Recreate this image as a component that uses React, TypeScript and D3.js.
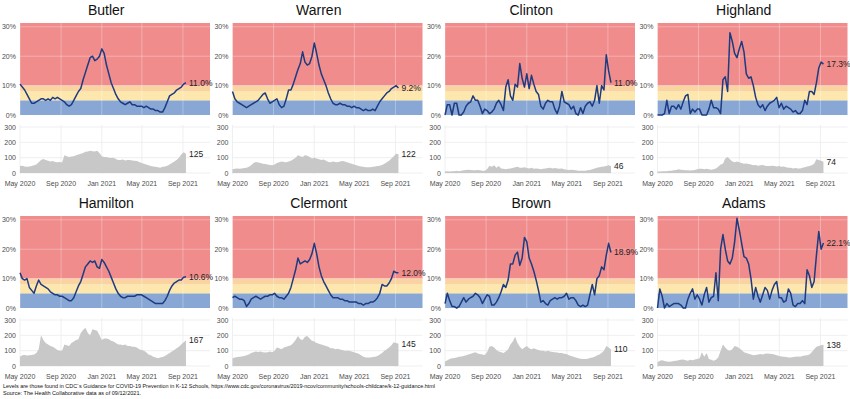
import * as d3 from 'd3'

const counties = ['Butler', 'Warren', 'Clinton', 'Highland', 'Hamilton', 'Clermont', 'Brown', 'Adams']

// weekly 7-day positivity (%), starting May 1 2020
const butlerRate = [10.5, 9.5, 8.5, 7, 5.5, 4, 4, 4.5, 5, 5.5, 5.5, 5, 5.5, 5, 6, 5.5, 6, 5.5, 5, 4.5, 3.5, 3, 3.5, 5, 6.5, 8, 9, 12, 14.5, 17, 19.5, 20, 18.5, 19, 20, 22.5, 21, 17, 14, 11, 9, 7, 5.5, 4.5, 4, 3.5, 4, 4.5, 3.5, 3.5, 3, 3, 3, 2.5, 3, 2.5, 2, 2, 1.5, 1.5, 1, 1, 2.5, 4.5, 6.5, 7, 7.5, 8.5, 9, 9.5, 10.5, 11.0]
const warrenRate = [8, 5.5, 4.5, 4, 3.5, 3, 2.5, 3, 3.5, 4, 4.5, 5, 6, 7, 7.5, 5.5, 4, 4.5, 5, 5.5, 3.5, 2.5, 3, 5.5, 8.5, 8.5, 10.5, 13, 15.5, 17.5, 21.5, 18, 17, 17.5, 20, 24.5, 21, 17, 14, 12, 10, 7.5, 5.5, 4, 3.5, 3.5, 4, 3.5, 3.5, 3, 3, 2.5, 3, 2.5, 2.5, 2, 1.5, 2, 1.5, 1.5, 2, 1.5, 3, 4.5, 5.5, 6.5, 7.5, 8, 9, 9.5, 10, 9.2]
const clintonRate = [0, 3.5, 3.5, 0, 4, 4, 0, 0, 1, 3, 4, 4.5, 6.5, 5, 5, 3, 0.5, 2, 1.5, 0.5, 1, 2, 4, 5, 3.5, 1.5, 9.5, 12, 6.5, 5, 10.5, 9.5, 17.5, 12.5, 9.5, 14, 9, 13.5, 10.5, 8, 7, 3, 2, 4, 5, 4.5, 4.5, 2, 0.5, 3, 8, 4.5, 4, 3.5, 2, 3, 0.5, 0, 2.5, 0.5, 3, 4, 4.5, 3, 5, 10, 4, 10, 8.5, 20.5, 15, 11.0]
const highlandRate = [0, 0, 0, 0.5, 5, 0.5, 3, 3, 2, 3.5, 2, 4.5, 6.5, 7, 0.5, 2, 1, 2, 2, 0, 0, 0, 2, 5, 2.5, 2.5, 2, 0.5, 12, 13, 8, 28, 25, 21, 19.5, 22.5, 25, 21.5, 14, 12.5, 13, 10, 6, 3.5, 2.5, 3.5, 1.5, 3, 4, 4.5, 5, 6, 2.5, 4, 2, 3, 2.5, 2, 1, 1.5, 0.5, 0.5, 1.5, 5, 3.5, 8, 8, 7, 11, 16, 18, 17.3]
const hamiltonRate = [12, 10, 9.5, 10, 7, 6, 5, 7.5, 9.5, 8, 7.5, 7, 6.5, 5.5, 5, 4.5, 4.5, 4, 4, 3.5, 3, 2.5, 2.5, 3.5, 5.5, 7.5, 9, 11.5, 14, 15, 16, 15.5, 16, 14, 13.5, 16.5, 15.5, 14, 12.5, 10.5, 8.5, 6.5, 5, 4, 3.5, 3.5, 4, 4, 4, 4, 4.5, 4.5, 4.5, 4, 3.5, 3, 2.5, 2, 1.5, 1.5, 1.5, 1.5, 2.5, 4, 6, 7.5, 8.5, 9, 9.5, 9.5, 10.5, 10.6]
const clermontRate = [3.5, 4, 3.5, 3, 3, 2.5, 0.5, 1.5, 3, 3.5, 4, 3.5, 3, 3.5, 4, 4, 4.5, 4.5, 5, 4, 3.5, 3.5, 3, 4, 5, 7, 10, 13, 17, 15, 15.5, 16, 15.5, 16.5, 18.5, 22, 18.5, 14, 11, 9, 7.5, 6, 4.5, 3.5, 3.5, 3.5, 3, 3, 2.5, 2.5, 2, 2, 2, 2, 1.5, 1.5, 1, 1.5, 1.5, 2, 2, 2.5, 3.5, 5, 8, 7.5, 7.5, 8.5, 10, 12.5, 12, 12.0]
const brownRate = [1.5, 5, 2.5, 0.5, 0.5, 0, 0.5, 2, 3.5, 2, 3, 3.5, 4, 5, 4.5, 3.5, 1.5, 3, 4.5, 4, 1, 1, 2, 3.5, 5.5, 8, 7, 9.5, 15, 15, 18, 19, 14.5, 17, 24, 22.5, 17, 15, 12.5, 9.5, 6, 2, 2.5, 1.5, 1, 2.5, 3, 3.5, 3, 3.5, 3.5, 4, 5, 3, 3.5, 3.5, 2.5, 1, 0.5, 1, 0.5, 1, 4.5, 8, 4.5, 10, 11, 14, 13, 18, 22, 18.9]
const adamsRate = [0, 6.5, 4, 0, 1.5, 0.5, 1, 1.5, 1.5, 1.5, 1, 0, 0, 3, 5, 6.5, 3, 4.5, 3, 1, 4.5, 7, 2, 3.5, 4, 12, 2.5, 20, 25, 20, 16, 15, 17, 22.5, 30.5, 26.5, 22, 17.5, 17, 15, 10, 3, 7, 4, 2, 4.5, 7, 6, 3, 6, 8, 9, 3.5, 3.5, 2, 2.5, 6.5, 5, 1, 0.5, 1.5, 1.5, 2.5, 1.5, 13, 11, 7, 9, 18, 26, 20, 22.1]

// weekly cases per 100k
const butlerCases = [45, 48, 42, 40, 42, 45, 50, 55, 70, 85, 92, 85, 80, 75, 78, 72, 70, 72, 68, 115, 110, 105, 108, 110, 115, 120, 125, 130, 138, 140, 145, 142, 140, 145, 130, 110, 105, 105, 100, 98, 100, 92, 85, 85, 88, 82, 85, 85, 82, 80, 78, 72, 65, 60, 55, 50, 45, 42, 40, 38, 35, 40, 42, 48, 55, 65, 75, 85, 100, 120, 135, 125]
const warrenCases = [25, 28, 30, 28, 30, 32, 35, 40, 50, 65, 72, 68, 65, 60, 58, 55, 52, 50, 55, 65, 70, 75, 72, 70, 75, 80, 90, 100, 115, 110, 105, 115, 112, 105, 95, 100, 95, 90, 85, 88, 80, 72, 70, 75, 72, 70, 75, 78, 75, 70, 65, 60, 55, 50, 45, 42, 40, 38, 38, 38, 40, 42, 45, 48, 52, 60, 70, 80, 95, 110, 125, 122]
const clintonCases = [10, 12, 10, 12, 12, 14, 12, 15, 18, 20, 22, 20, 18, 18, 20, 18, 15, 15, 25, 48, 40, 50, 35, 45, 30, 28, 25, 28, 30, 32, 38, 40, 35, 35, 38, 32, 30, 35, 28, 30, 28, 25, 28, 30, 32, 35, 30, 32, 30, 28, 30, 25, 22, 20, 22, 20, 18, 15, 15, 14, 15, 18, 20, 25, 30, 35, 38, 40, 42, 45, 50, 46]
const highlandCases = [10, 10, 12, 12, 12, 14, 15, 18, 20, 25, 22, 20, 18, 18, 16, 18, 20, 25, 28, 28, 25, 28, 25, 22, 25, 30, 40, 55, 60, 95, 105, 90, 75, 70, 75, 70, 65, 60, 62, 58, 55, 50, 52, 48, 50, 52, 48, 45, 45, 48, 45, 42, 45, 40, 42, 38, 35, 35, 30, 32, 30, 30, 35, 38, 42, 45, 50, 60, 90, 85, 80, 74]
const hamiltonCases = [60, 70, 72, 68, 70, 72, 75, 85, 110, 200, 170, 150, 140, 130, 125, 115, 105, 100, 100, 140, 135, 130, 150, 160, 170, 175, 215, 235, 250, 215, 200, 240, 235, 230, 200, 170, 180, 180, 175, 165, 160, 150, 140, 140, 135, 140, 130, 130, 125, 125, 120, 110, 105, 100, 90, 75, 70, 60, 55, 50, 55, 58, 65, 75, 85, 95, 105, 115, 125, 140, 155, 167]
const clermontCases = [50, 55, 58, 60, 62, 65, 70, 75, 85, 90, 95, 92, 95, 90, 88, 90, 95, 90, 100, 120, 115, 110, 120, 125, 130, 135, 150, 170, 195, 175, 170, 190, 195, 180, 165, 160, 150, 145, 140, 135, 130, 125, 115, 115, 110, 112, 108, 105, 100, 100, 100, 95, 90, 85, 80, 70, 60, 55, 55, 55, 58, 60, 65, 75, 85, 100, 110, 120, 135, 155, 150, 145]
const brownCases = [30, 38, 45, 50, 52, 55, 60, 62, 65, 70, 75, 80, 85, 90, 82, 78, 75, 72, 90, 125, 130, 120, 105, 95, 90, 85, 95, 110, 140, 160, 190, 150, 125, 110, 120, 130, 115, 110, 115, 110, 105, 100, 100, 95, 100, 95, 92, 90, 88, 85, 85, 80, 78, 70, 65, 60, 55, 50, 48, 45, 45, 48, 52, 55, 60, 68, 75, 85, 100, 130, 120, 110]
const adamsCases = [25, 35, 38, 32, 30, 28, 30, 32, 35, 38, 40, 42, 38, 35, 40, 38, 42, 45, 50, 90, 60, 85, 45, 40, 35, 40, 55, 100, 140, 120, 105, 100, 110, 130, 125, 115, 105, 90, 85, 80, 75, 70, 72, 75, 78, 75, 80, 82, 80, 78, 75, 70, 65, 62, 60, 58, 55, 55, 58, 60, 62, 60, 65, 68, 70, 75, 90, 110, 125, 130, 135, 138]

const rateSeries = [butlerRate, warrenRate, clintonRate, highlandRate, hamiltonRate, clermontRate, brownRate, adamsRate]
const caseSeries = [butlerCases, warrenCases, clintonCases, highlandCases, hamiltonCases, clermontCases, brownCases, adamsCases]

const levels = [
  { from: 0, to: 5, color: '#89a7d5' },
  { from: 5, to: 8, color: '#fde7ac' },
  { from: 8, to: 10, color: '#f9d3a0' },
  { from: 10, to: 31.3, color: '#f08c8c' },
]

const caption1 =
  'Levels are those found in CDC`s Guidance for COVID-19 Prevention in K-12 Schools, https://www.cdc.gov/coronavirus/2019-ncov/community/schools-childcare/k-12-guidance.html'
const caption2 = 'Source: The Health Collaborative data as of 09/12/2021.'

const start = new Date(2020, 4, 1)
const dates = d3.range(72).map(i => d3.timeDay.offset(start, 7 * i))

const W = 850
const H = 399
const colW = 212.5
const rowH = 193
const font = '"Liberation Sans", Arial, sans-serif'

const x = d3
  .scaleTime()
  .domain([start, new Date(2021, 10, 21)])
  .range([20, 210])
const yRate = d3.scaleLinear().domain([0, 31.3]).range([115, 23])
const yCases = d3.scaleLinear().domain([0, 300]).range([173, 127])
const xTicks = x.ticks(d3.timeMonth.every(4))
const fmtTick = d3.timeFormat('%b %Y')

const line = d3
  .line<number>()
  .x((_, i) => x(dates[i]))
  .y(d => yRate(d))
const area = d3
  .area<number>()
  .x((_, i) => x(dates[i]))
  .y0(yCases(0))
  .y1(d => yCases(d))

const Panel = ({ idx }: { idx: number }) => {
  const col = idx % 4
  const row = Math.floor(idx / 4)
  const rate = rateSeries[idx]
  const cases = caseSeries[idx]
  const last = dates.length - 1
  const [x0, x1] = x.range()
  return (
    <g transform={`translate(${col * colW},${row * rowH})`}>
      <text x={colW / 2} y={15} textAnchor="middle" fontSize="14" fill="#111">
        {counties[idx]}
      </text>
      {/* level bands */}
      {levels.map(l => (
        <rect
          key={l.from}
          x={x0}
          width={x1 - x0}
          y={yRate(l.to)}
          height={yRate(l.from) - yRate(l.to)}
          fill={l.color}
        />
      ))}
      {xTicks.map(t => (
        <line key={+t} x1={x(t)} x2={x(t)} y1={23} y2={115} stroke="#fff" strokeOpacity="0.3" />
      ))}
      {[10, 20, 30].map(v => (
        <line key={v} x1={x0} x2={x1} y1={yRate(v)} y2={yRate(v)} stroke="#fff" strokeOpacity="0.3" />
      ))}
      {[0, 10, 20, 30].map(v => (
        <text key={v} x={16} y={yRate(v) + 2.5} textAnchor="end" fontSize="7" fill="#4d4d4d">
          {v}%
        </text>
      ))}
      <path d={line(rate) ?? ''} fill="none" stroke="#1d3b80" strokeWidth="1.5" strokeLinejoin="round" />
      <text x={x(dates[last]) + 3} y={yRate(rate[last]) + 3} fontSize="8.5" fill="#222">
        {d3.format('.1f')(rate[last])}%
      </text>

      {/* cases */}
      {xTicks.map(t => (
        <line key={+t} x1={x(t)} x2={x(t)} y1={125} y2={174} stroke="#ebebeb" strokeWidth="0.8" />
      ))}
      {[0, 100, 200, 300].map(v => (
        <g key={v}>
          <line x1={x0} x2={x1} y1={yCases(v)} y2={yCases(v)} stroke="#ebebeb" strokeWidth="0.8" />
          <text x={16} y={yCases(v) + 2.5} textAnchor="end" fontSize="7" fill="#4d4d4d">
            {v}
          </text>
        </g>
      ))}
      <path d={area(cases) ?? ''} fill="#c8c8c8" />
      <text x={x(dates[last]) + 3} y={yCases(cases[last]) + 3} fontSize="8.5" fill="#222">
        {cases[last]}
      </text>
      {xTicks.map(t => (
        <text key={+t} x={x(t)} y={186} textAnchor="middle" fontSize="7" fill="#4d4d4d">
          {fmtTick(t)}
        </text>
      ))}
    </g>
  )
}

export default function App() {
  return (
    <svg
      width={W}
      height={H}
      style={{ position: 'absolute', left: 0, top: 0, background: '#fff' }}
      fontFamily={font}
    >
      {counties.map((_, i) => (
        <Panel key={i} idx={i} />
      ))}
      <text x={3} y={388} fontSize="6" fill="#111" textLength={432} lengthAdjust="spacingAndGlyphs">
        {caption1}
      </text>
      <text x={3} y={395} fontSize="6" fill="#111" textLength={138} lengthAdjust="spacingAndGlyphs">
        {caption2}
      </text>
    </svg>
  )
}
